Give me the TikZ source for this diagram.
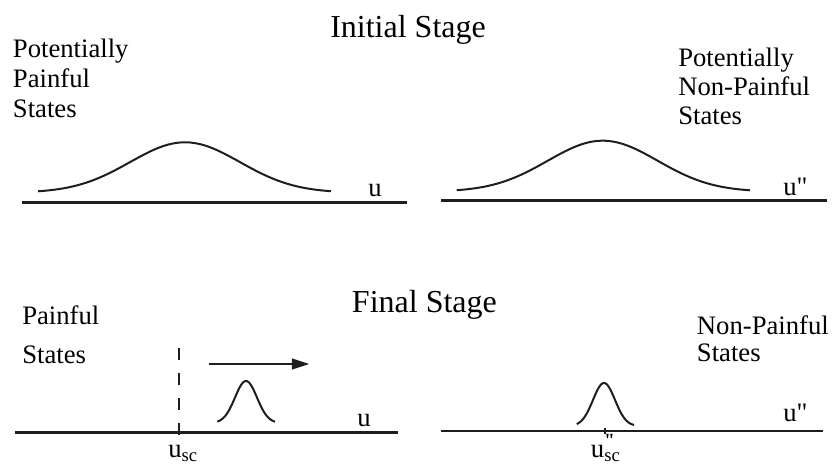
\documentclass[tikz,border=0pt]{standalone}
\usepackage{fontspec}
\setmainfont{Liberation Serif}[Ligatures=TeXOff]
\usepackage{tikz}
\usetikzlibrary{arrows.meta}
\definecolor{axInk}{HTML}{1E1E1E}
\tikzset{
  axisline/.style={
    draw=axInk, line width=1.9pt
  },
  bellcurve/.style={
    draw=axInk, line width=1.5pt,
    smooth, samples=80
  },
  stagetitle/.style={
    inner sep=0pt, anchor=base west,
    font=\fontsize{24}{28}\selectfont
  },
  statelabel/.style={
    inner sep=0pt, anchor=base west, align=left,
    font=\fontsize{20}{#1}\selectfont
  },
  statelabel/.default=22.5,
  axislabel/.style={
    inner sep=0pt, anchor=base west,
    font=\fontsize{20}{22}\selectfont
  },
  threshold/.style={
    draw=axInk, line width=2pt,
    dash pattern=on 8.8pt off 10pt
  },
  shiftarrow/.style={
    -{Triangle[length=13pt, width=8pt]},
    draw=axInk, line width=1.5pt
  }
}

\begin{document}
\begin{tikzpicture}[x=0.75pt, y=-0.75pt]
  \useasboundingbox (0,0) rectangle (834,464);
  % initial stage
  \node[stagetitle] (initial) at (330,37.3) {Initial Stage};
  \node[statelabel=22.5] (potpain) at (12.7,117.5) {Potentially\\Painful\\States};
  \node[statelabel=21.4] (potnonpain) at (678,124) {Potentially\\Non-Painful\\States};
  \coordinate (ilAxisL) at (22,202.7);
  \coordinate (ilAxisR) at (407,202.7);
  \coordinate (irAxisL) at (441,200.7);
  \coordinate (irAxisR) at (827,200.7);
  \draw[axisline] (ilAxisL) -- (ilAxisR);
  \draw[axisline] (irAxisL) -- (irAxisR);
  \draw[bellcurve, domain=38:331] plot (\x, {192.7-50.4*exp(-((\x-185)/55)^2/2)});
  \draw[bellcurve, domain=456.7:750] plot (\x, {191.7-51*exp(-((\x-602.7)/55)^2/2)});
  \node[axislabel] (iu) at (368,196.7) {u};
  \node[axislabel] (iuu) at (783,195) {u"};
  % final stage
  \node[stagetitle] (final) at (351.7,312.7) {Final Stage};
  \node[statelabel=29] (pain) at (22,363) {Painful\\States};
  \node[statelabel=20] (nonpain) at (696.7,361) {Non-Painful\\States};
  \coordinate (flAxisL) at (15,432.3);
  \coordinate (flAxisR) at (398,432.3);
  \coordinate (frAxisL) at (441,431);
  \coordinate (frAxisR) at (823,431);
  \draw[axisline] (flAxisL) -- (flAxisR);
  \draw[axisline] (frAxisL) -- (frAxisR);
  \coordinate (scTop) at (179,348);
  \coordinate (scBot) at (179,435);
  \draw[threshold] (scTop) -- (scBot);
  \coordinate (shiftFrom) at (209.3,364);
  \coordinate (shiftTo) at (309.3,364);
  \draw[shiftarrow] (shiftFrom) -- (shiftTo);
  \draw[bellcurve, domain=217.3:275] plot (\x, {423-42*exp(-((\x-246)/11)^2/2)});
  \draw[bellcurve, domain=576.7:634] plot (\x, {426-43*exp(-((\x-604)/11)^2/2)});
  \coordinate (tickTop) at (605,427.7);
  \coordinate (tickBot) at (605,434.3);
  \draw[draw=axInk, line width=1.5pt] (tickTop) -- (tickBot);
  \node[axislabel] (fu) at (357,426) {u};
  \node[axislabel] (fuu) at (783,421.7) {u"};
  \node[axislabel] (usc) at (168,457) {u\textsubscript{sc}};
  \node[axislabel] (uusc) at (590.7,457) {u\rlap{\textsubscript{sc}}\textsuperscript{\bfseries"}};
\end{tikzpicture}
\end{document}
